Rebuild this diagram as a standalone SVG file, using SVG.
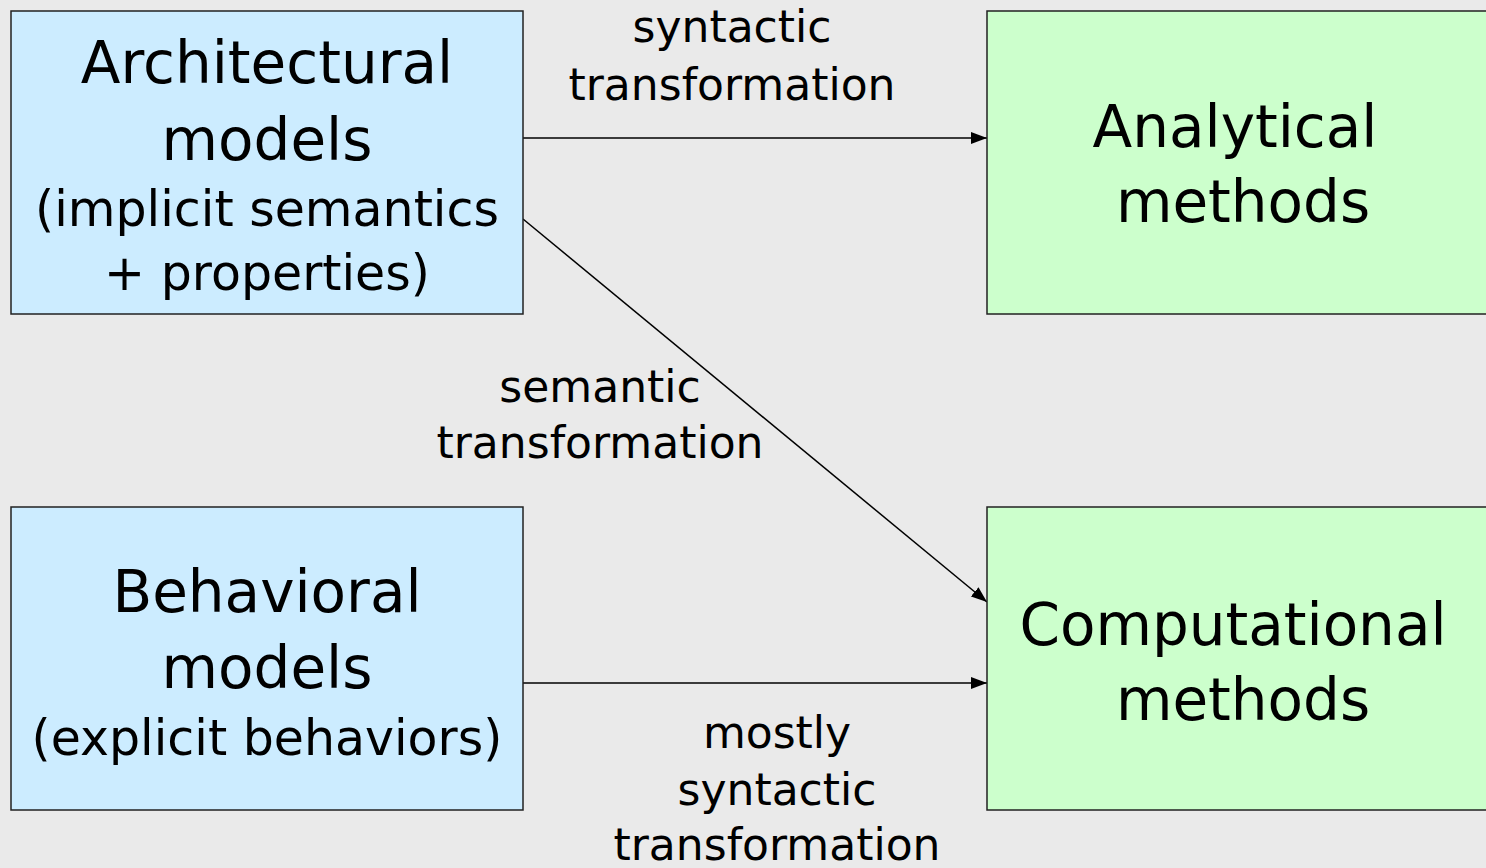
<svg xmlns="http://www.w3.org/2000/svg" width="1486" height="868" viewBox="0 0 1486 868">
<defs>
<style>
.bg{fill:#EAEAEA}
.blue{fill:#CCECFF;stroke:#222;stroke-width:1.5}
.green{fill:#CCFFCC;stroke:#222;stroke-width:1.5}
text{font-family:"DejaVu Sans","Liberation Sans",sans-serif;fill:#000;text-anchor:middle}
.big{font-size:58px}
.mid{font-size:49px}
.lbl{font-size:44px}
.conn{stroke:#000;stroke-width:1.5;fill:none;marker-end:url(#ah)}
</style>
<marker id="ah" markerWidth="16" markerHeight="12" refX="16" refY="6" orient="auto" markerUnits="userSpaceOnUse">
<path d="M0,0 L16,6 L0,12 Z" fill="#000"/>
</marker>
</defs>
<rect class="bg" x="0" y="0" width="1486" height="868"/>
<g id="connectors">
<line class="conn" x1="523" y1="138" x2="987" y2="138"/>
<line class="conn" x1="523" y1="219" x2="987" y2="602"/>
<line class="conn" x1="523" y1="683" x2="987" y2="683"/>
<text class="lbl" x="732" y="42">syntactic</text>
<text class="lbl" x="732" y="100">transformation</text>
<text class="lbl" x="600" y="402">semantic</text>
<text class="lbl" x="600" y="458">transformation</text>
<text class="lbl" x="777" y="748">mostly</text>
<text class="lbl" x="777" y="805">syntactic</text>
<text class="lbl" x="777" y="860">transformation</text>
</g>
<g id="architectural">
<rect class="blue" x="11" y="11" width="512" height="303"/>
<text class="big" x="267" y="83">Architectural</text>
<text class="big" x="267" y="160">models</text>
<text class="mid" x="267" y="226">(implicit semantics</text>
<text class="mid" x="267" y="290">+ properties)</text>
</g>
<g id="analytical">
<rect class="green" x="987" y="11" width="510" height="303"/>
<text class="big" x="1235" y="147">Analytical</text>
<text class="big" x="1243" y="222">methods</text>
</g>
<g id="behavioral">
<rect class="blue" x="11" y="507" width="512" height="303"/>
<text class="big" x="267" y="612">Behavioral</text>
<text class="big" x="267" y="688">models</text>
<text class="mid" x="267" y="755">(explicit behaviors)</text>
</g>
<g id="computational">
<rect class="green" x="987" y="507" width="510" height="303"/>
<text class="big" x="1233" y="645">Computational</text>
<text class="big" x="1243" y="720">methods</text>
</g>
</svg>
